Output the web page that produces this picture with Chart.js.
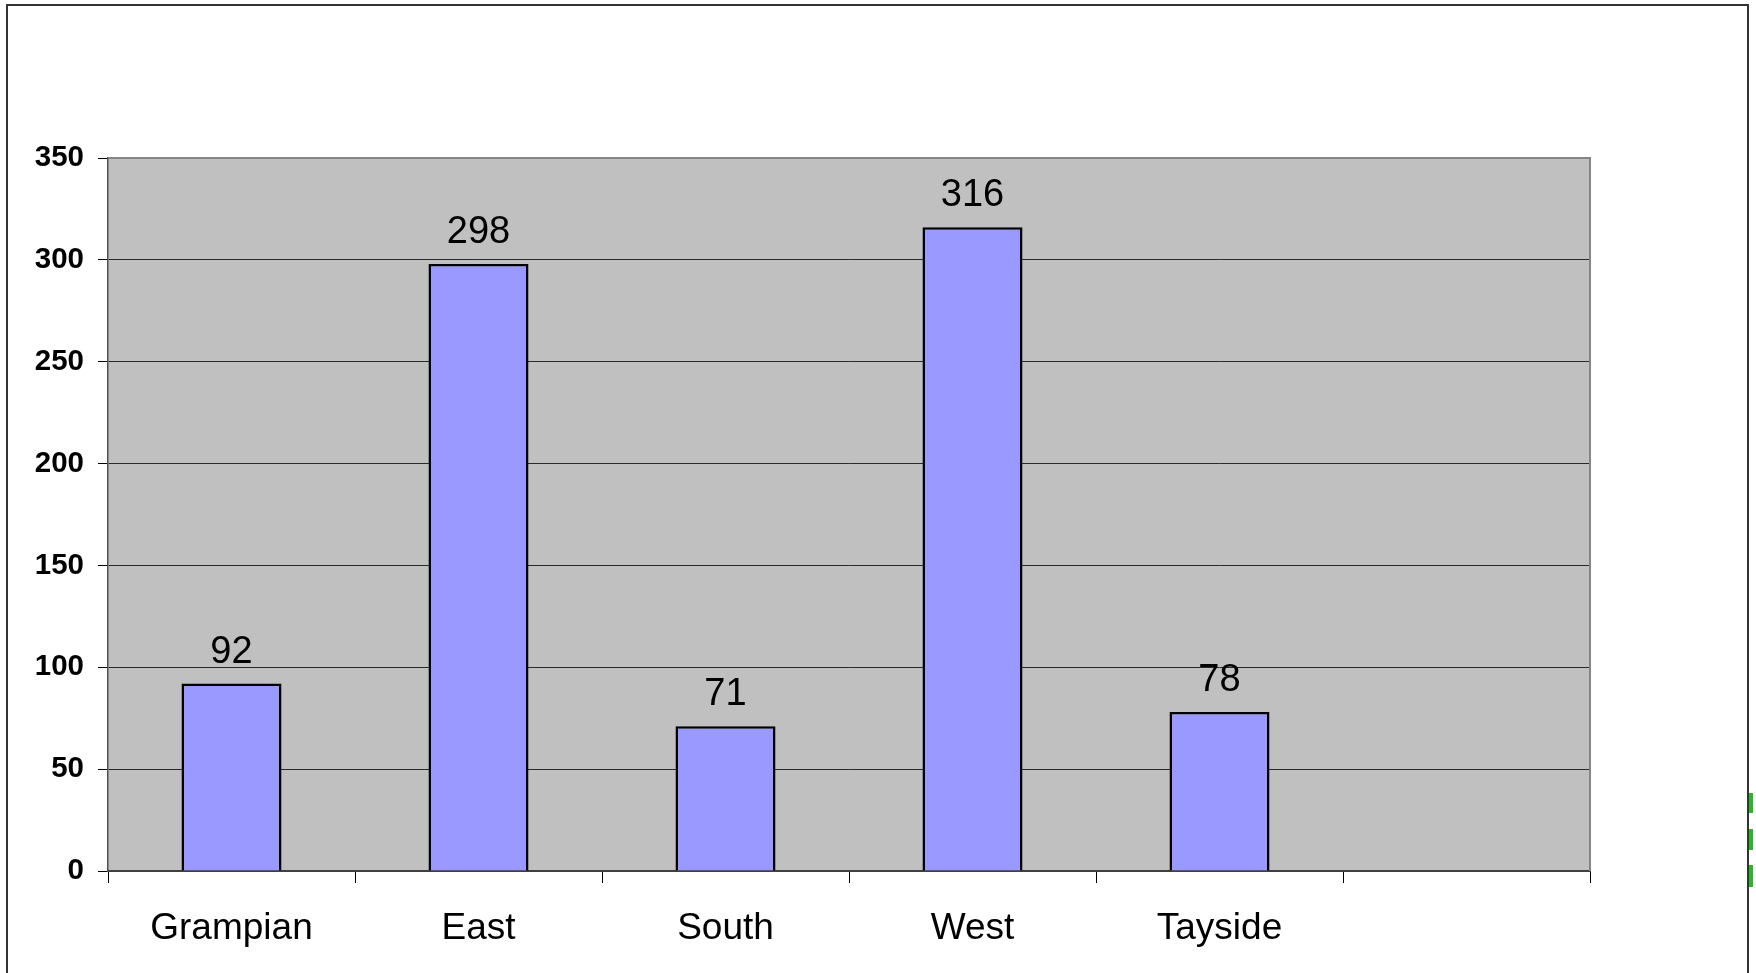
<!DOCTYPE html>
<html>
<head>
<meta charset="utf-8">
<style>
html,body{margin:0;padding:0;background:#fff;}
#wrap{position:absolute;left:0;top:0;width:1756px;height:973px;}
</style>
<script src="https://cdn.jsdelivr.net/npm/chart.js@4/dist/chart.umd.min.js"></script>
</head>
<body>
<div id="wrap"><canvas id="c" width="1756" height="973"></canvas></div>
<script>
const categories = ["Grampian", "East", "South", "West", "Tayside", ""];
const values = [92, 298, 71, 316, 78, null];
const yTicks = [0, 50, 100, 150, 200, 250, 300, 350];

const FONT = "'Liberation Sans', Arial, sans-serif";

const decor = {
  id: 'decor',
  beforeDraw(chart) {
    const ctx = chart.ctx, a = chart.chartArea;
    ctx.save();
    ctx.fillStyle = '#ffffff';
    ctx.fillRect(0, 0, chart.width, chart.height);
    ctx.fillStyle = '#C0C0C0';
    ctx.fillRect(a.left, a.top, a.right - a.left, a.bottom - a.top);
    ctx.restore();
  },
  afterDraw(chart) {
    const ctx = chart.ctx, a = chart.chartArea;
    ctx.save();
    ctx.strokeStyle = '#858585';
    ctx.lineWidth = 2;
    ctx.beginPath();
    ctx.moveTo(a.left, a.top);
    ctx.lineTo(a.right, a.top);
    ctx.lineTo(a.right, a.bottom);
    ctx.stroke();
    ctx.strokeStyle = '#333333';
    ctx.lineWidth = 2;
    ctx.beginPath();
    ctx.moveTo(7, chart.height + 2);
    ctx.lineTo(7, 5);
    ctx.lineTo(1748, 5);
    ctx.lineTo(1748, chart.height + 2);
    ctx.stroke();
    ctx.fillStyle = '#2cb52c';
    ctx.fillRect(1749, 793, 4, 20);
    ctx.fillRect(1749, 829, 4, 21);
    ctx.fillRect(1749, 865, 4, 22);
    ctx.restore();
  },
  afterDatasetsDraw(chart) {
    const ctx = chart.ctx;
    const meta = chart.getDatasetMeta(0);
    ctx.save();
    ctx.fillStyle = '#000';
    ctx.font = '38px ' + FONT;
    ctx.textAlign = 'center';
    ctx.textBaseline = 'alphabetic';
    meta.data.forEach((bar, i) => {
      const v = values[i];
      if (v === null || v === undefined) return;
      ctx.fillText(String(v), bar.x, bar.y - 21);
    });
    ctx.restore();
  }
};

new Chart(document.getElementById('c'), {
  type: 'bar',
  data: {
    labels: categories,
    datasets: [{
      data: values,
      backgroundColor: '#9999FF',
      borderColor: '#000000',
      borderWidth: 2.5,
      categoryPercentage: 1.0,
      barPercentage: 0.405
    }]
  },
  options: {
    responsive: false,
    animation: false,
    devicePixelRatio: 1,
    layout: { padding: { left: 0, top: 158, right: 166, bottom: 0 } },
    plugins: { legend: { display: false }, tooltip: { enabled: false } },
    scales: {
      x: {
        offset: true,
        grid: {
          offset: true,
          drawOnChartArea: false,
          drawTicks: true,
          tickLength: 12,
          tickColor: '#000000',
          lineWidth: 1
        },
        border: { display: true, color: '#404040', width: 2 },
        ticks: {
          color: '#000000',
          font: { family: FONT, size: 37 },
          padding: 24,
          maxRotation: 0,
          autoSkip: false
        },
        afterFit(s) { s.height = 102; }
      },
      y: {
        min: 0,
        max: 350,
        afterBuildTicks(s) { s.ticks = yTicks.map(v => ({ value: v })); },
        grid: {
          color: '#2a2a2a',
          lineWidth: 1,
          drawTicks: true,
          tickLength: 10,
          tickColor: '#000000'
        },
        border: { display: true, color: '#505050', width: 1.5 },
        ticks: {
          color: '#000000',
          font: { family: FONT, size: 29.5, weight: 'bold' },
          padding: 14
        },
        afterFit(s) { s.width = 108; }
      }
    }
  },
  plugins: [decor]
});
</script>
</body>
</html>
